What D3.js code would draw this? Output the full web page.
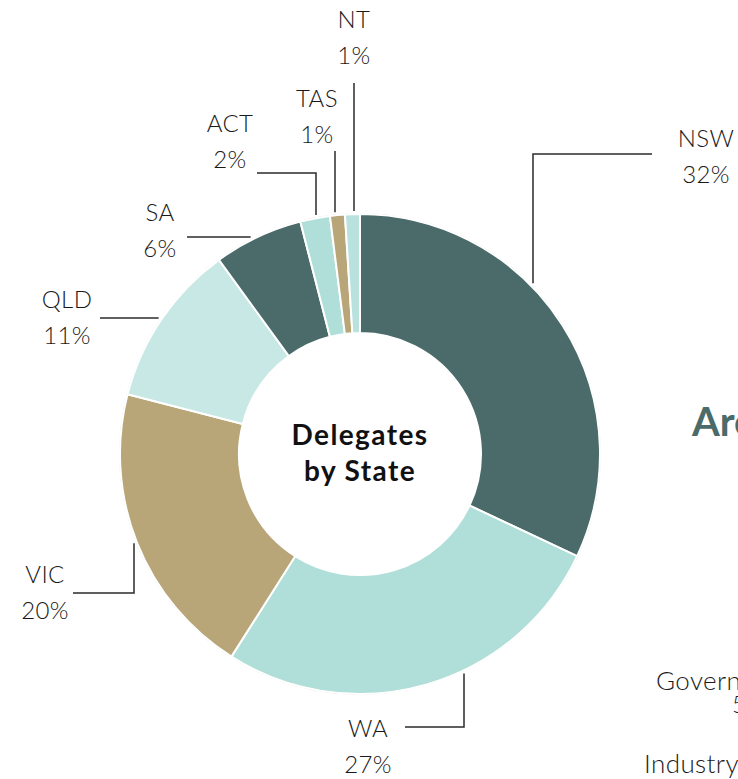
<!DOCTYPE html>
<html>
<head>
<meta charset="utf-8">
<script src="https://cdn.jsdelivr.net/npm/d3@7"></script>
<style>
  body { margin: 0; background: #fff; }
  svg { display: block; }
  .lbl { font-family: Lato, "Noto Sans", sans-serif; font-weight: 300; font-size: 24px; letter-spacing: 0.4px; fill: #1a1a1a; }
</style>
</head>
<body>
<div class="donut__chart"></div>
<script>
var width = 738,
    height = 779,
    cx = 360, cy = 454,
    outerR = 240, innerR = 121;

// data
var states = ["NSW", "WA", "VIC", "QLD", "SA", "ACT", "TAS", "NT"];
var shares = [32, 27, 20, 11, 6, 2, 1, 1];
var sliceColors = ["#4b6a6a", "#b0ded8", "#b8a679", "#c7e8e4", "#4b6a6a", "#b0ded8", "#b8a679", "#b9e2de"];

// label placement (leader: "v" = vertical from arc, "h" = horizontal from arc)
var labelLayout = {
  NSW: {leader: "v", at: 533, bend: 154, end: 652, tx: 706, ty: 147},
  WA:  {leader: "v", at: 464, bend: 727, end: 405, tx: 368, ty: 737},
  VIC: {leader: "v", at: 134, bend: 593, end: 73,  tx: 45,  ty: 583},
  QLD: {leader: "h", at: 318, end: 100, tx: 67,  ty: 308},
  SA:  {leader: "h", at: 237, end: 187, tx: 160, ty: 221},
  ACT: {leader: "v", at: 316, bend: 173, end: 257, tx: 230, ty: 132},
  TAS: {leader: "v", at: 335, bend: 151, tx: 317, ty: 107},
  NT:  {leader: "v", at: 354, bend: 83,  tx: 354, ty: 28}
};

var data = states.map(function(s, i){ return {state: s, value: shares[i], color: sliceColors[i]}; });

var svg = d3.select(".donut__chart")
    .append("svg")
    .attr("width", width)
    .attr("height", height);

var pie = d3.pie().sort(null).value(function(d){ return d.value; });
var arc = d3.arc().innerRadius(innerR).outerRadius(outerR);

var g = svg.append("g").attr("transform", "translate(" + cx + "," + cy + ")");

// faint outer rim
g.append("circle")
  .attr("r", outerR + 0.5)
  .attr("fill", "none")
  .attr("stroke", "#dcdcdc")
  .attr("stroke-width", 1);

g.selectAll("path.slice")
  .data(pie(data))
  .enter().append("path")
  .attr("class", "slice")
  .attr("d", arc)
  .attr("fill", function(d){ return d.data.color; })
  .attr("stroke", "#fff")
  .attr("stroke-width", 2);

// leader lines + labels
var reach = outerR + 3;
data.forEach(function(d){
  var L = labelLayout[d.state], pts;
  if (L.leader == "v") {
    var dx = L.at - cx;
    var dy = Math.sqrt(reach * reach - dx * dx);
    var y0 = L.bend < cy ? cy - dy : cy + dy;
    pts = [[L.at, y0], [L.at, L.bend]];
    if (L.end != null) pts.push([L.end, L.bend]);
  } else {
    var ddy = L.at - cy;
    var ddx = Math.sqrt(reach * reach - ddy * ddy);
    var x0 = L.end < cx ? cx - ddx : cx + ddx;
    pts = [[x0, L.at], [L.end, L.at]];
  }
  svg.append("path")
    .attr("d", d3.line()(pts))
    .attr("fill", "none")
    .attr("stroke", "#2b2b2b")
    .attr("stroke-width", 1.5);

  var t = svg.append("text")
    .attr("class", "lbl")
    .attr("text-anchor", "middle")
    .attr("x", L.tx)
    .attr("y", L.ty);
  t.append("tspan").attr("x", L.tx).text(d.state);
  t.append("tspan").attr("x", L.tx).attr("dy", 36).text(d.value + "%");
});

// center title
var title = g.append("text")
  .attr("text-anchor", "middle")
  .style("font-family", "Lato, sans-serif")
  .style("font-weight", 700)
  .style("font-size", "28px")
  .style("letter-spacing", "1.4px")
  .attr("fill", "#111");
title.append("tspan").attr("x", 0).attr("y", -9).text("Delegates");
title.append("tspan").attr("x", 0).attr("y", 27).text("by State");

// neighbouring panel, cut off at the right edge
svg.append("text")
  .attr("x", 692).attr("y", 436)
  .style("font-family", "Lato, sans-serif")
  .style("font-weight", 700)
  .style("font-size", "40px")
  .attr("fill", "#4b6a6a")
  .text("Areas");

svg.append("text")
  .attr("class", "lbl")
  .attr("x", 656).attr("y", 690)
  .style("font-size", "26px")
  .text("Government");
svg.append("text")
  .attr("class", "lbl")
  .attr("x", 732).attr("y", 713)
  .style("font-size", "24px")
  .text("5%");
svg.append("text")
  .attr("class", "lbl")
  .attr("x", 644).attr("y", 773)
  .style("font-size", "26px")
  .text("Industry");
</script>
</body>
</html>
